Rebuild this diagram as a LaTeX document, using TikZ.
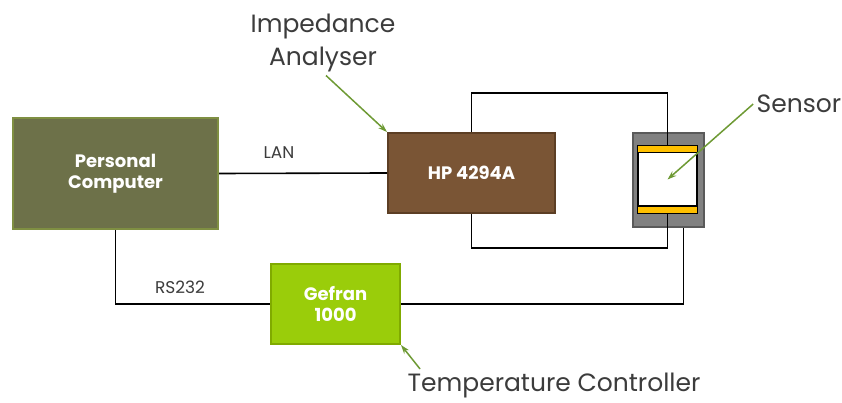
\documentclass[tikz,border=0pt]{standalone}
\usepackage{fontspec}
\setmainfont{Poppins}
\usetikzlibrary{arrows.meta, positioning}

\definecolor{pcgreen}{HTML}{6D7149}
\definecolor{pcedge}{HTML}{7F8F42}
\definecolor{hpbrown}{HTML}{7A5535}
\definecolor{hpedge}{HTML}{5C3E24}
\definecolor{gefgreen}{HTML}{9ACD0A}
\definecolor{gefedge}{HTML}{80AA00}
\definecolor{pointgreen}{HTML}{6E9A34}
\definecolor{labelgray}{HTML}{3C3C3C}
\definecolor{sensgray}{HTML}{818181}
\definecolor{sensedge}{HTML}{5A5A5A}
\definecolor{padyellow}{HTML}{FFC000}

\tikzset{
  unit/.style={draw, line width=2pt, text=white, align=center, inner sep=0pt,
    font=\bfseries\fontsize{18}{21}\selectfont},
  wire/.style={line width=1.6pt, black},
  pointer/.style={draw=pointgreen, line width=1.5pt, -{Stealth[length=9pt,width=6pt]}},
  callout/.style={text=labelgray, align=center, font=\fontsize{25}{33}\selectfont},
  buslabel/.style={text=labelgray, font=\fontsize{17}{19}\selectfont},
}

\begin{document}
\begin{tikzpicture}[x=1pt, y=-1pt]
    \useasboundingbox[fill=white] (0,0) rectangle (842,403);

    % Units
    \node[unit, fill=pcgreen, draw=pcedge, minimum width=205pt, minimum height=111pt]
        (pc) at (115.5,173.5) {Personal\\Computer};
    \node[unit, fill=hpbrown, draw=hpedge, minimum width=167pt, minimum height=80pt]
        (hp) at (471.5,173) {HP 4294A};
    \node[unit, fill=gefgreen, draw=gefedge, minimum width=129pt, minimum height=80pt]
        (gefran) at (335.5,304) {Gefran\\1000};

    % Sensor cell
    \node[fill=sensgray, draw=sensedge, line width=2pt, minimum width=71pt, minimum height=94pt]
        (sensor) at (668.5,180) {};
    \node[fill=white, draw=black, line width=2.5pt, minimum width=59pt, minimum height=67pt]
        (senin) at (667.5,179.5) {};
    \fill[padyellow] ([shift={(1.5pt,-1.5pt)}]senin.north west) rectangle ([shift={(-1.5pt,-8pt)}]senin.north east);
    \draw[line width=1.5pt] ([shift={(1.5pt,-8pt)}]senin.north west) -- ([shift={(-1.5pt,-8pt)}]senin.north east);
    \fill[padyellow] ([shift={(1.5pt,1.5pt)}]senin.south west) rectangle ([shift={(-1.5pt,8pt)}]senin.south east);
    \draw[line width=1.5pt] ([shift={(1.5pt,8pt)}]senin.south west) -- ([shift={(-1.5pt,8pt)}]senin.south east);

    % Wiring
    \coordinate (wtop) at (560,93);
    \coordinate (wbot) at (560,248);
    \draw[wire] (pc.east) -- (hp.west);
    \draw[wire] (hp.north) |- (wtop) -| (senin.north);
    \draw[wire] (hp.south) |- (wbot) -| (senin.south);
    \draw[wire] (pc.south) |- (gefran.west);
    \draw[wire] (gefran.east) -| ([xshift=15pt]sensor.south);

    \node[buslabel] (lan) at (279,153) {LAN};
    \node[buslabel] (rs) at (180,287) {RS232};

    % Callouts
    \node[callout] (imp) at (323,43) {Impedance\\Analyser};
    \node[callout] (sens) at (799,104) {Sensor};
    \node[callout] (temp) at (554,385) {Temperature Controller};

    \draw[pointer] ([xshift=3pt]imp.south) -- (hp.north west);
    \draw[pointer] (sens.west) -- (senin.center);
    \draw[pointer] ([xshift=16pt]temp.north west) -- (gefran.south east);
\end{tikzpicture}
\end{document}
